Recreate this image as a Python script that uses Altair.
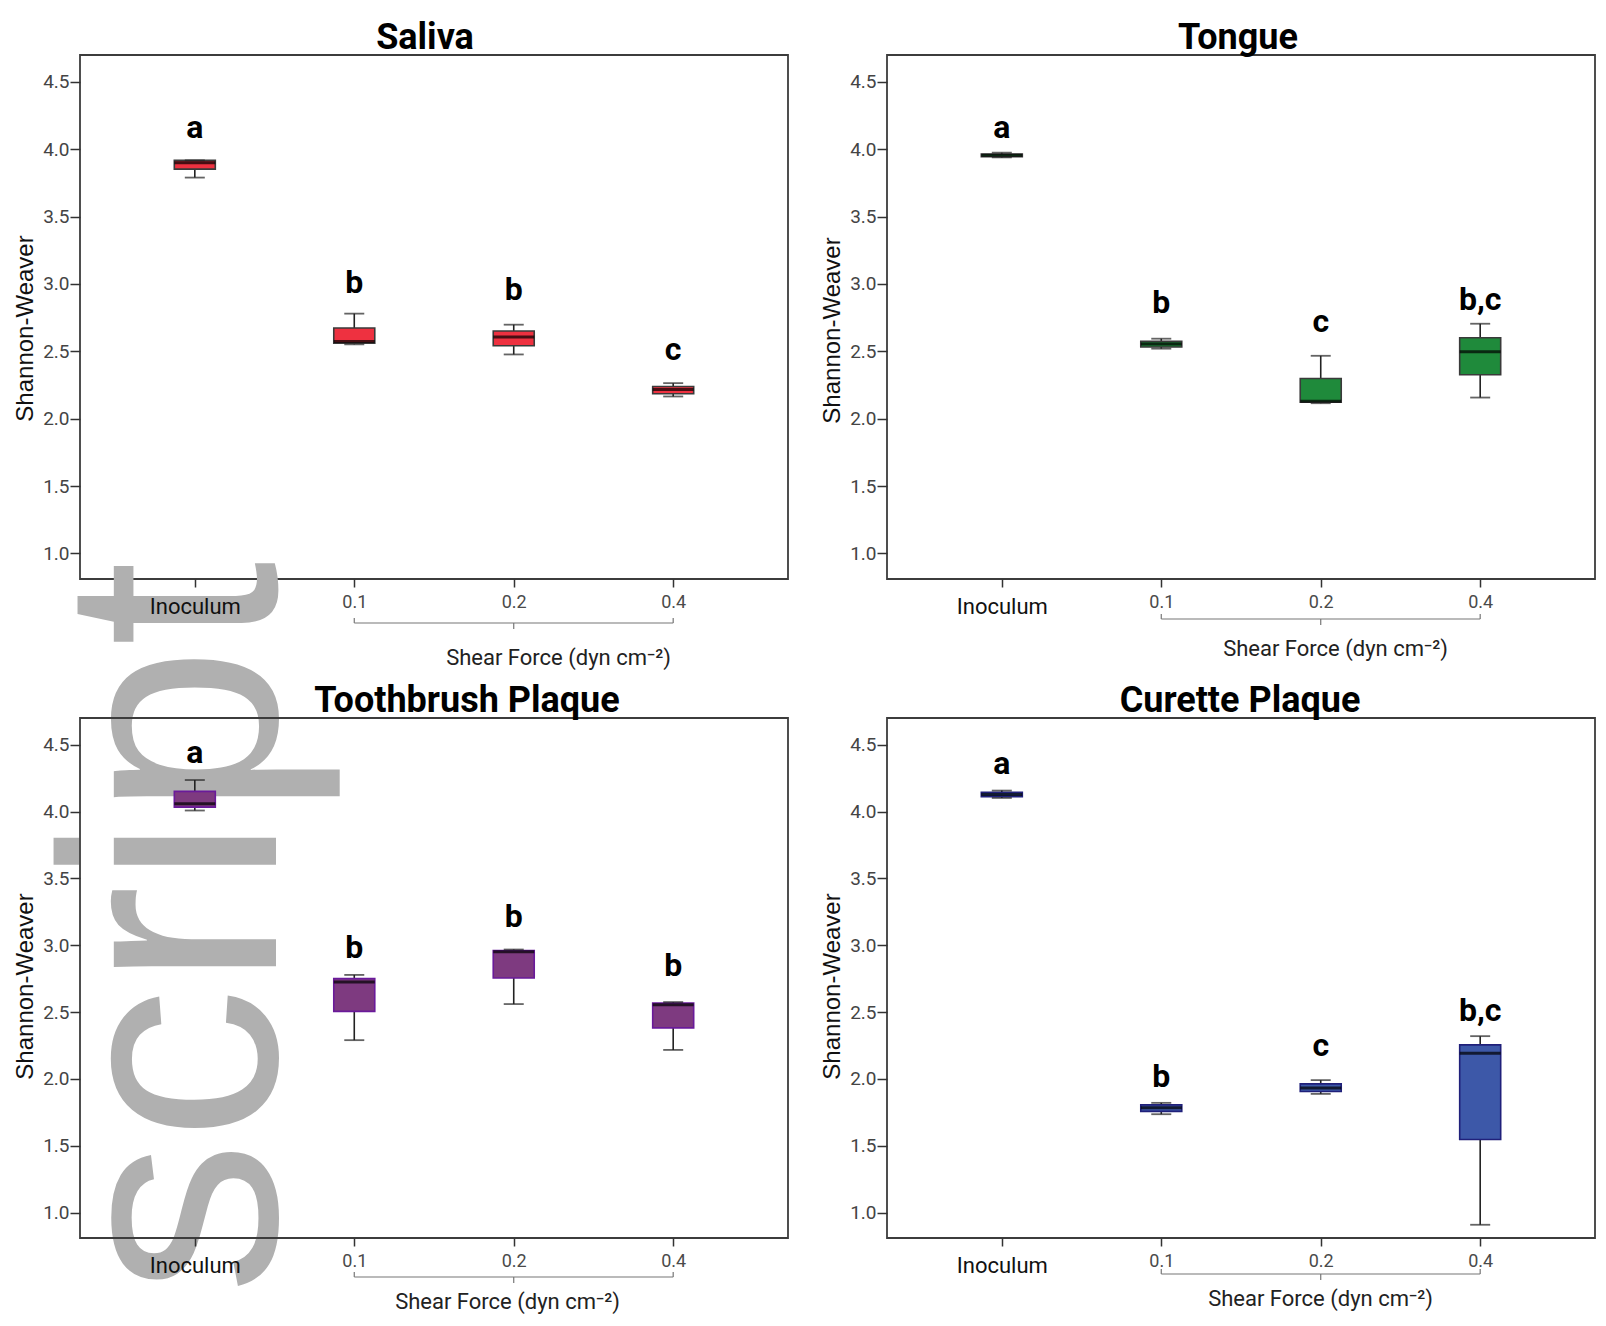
import altair as alt
import pandas as pd

# ---------------- data ----------------
categories = ["Inoculum", "0.1", "0.2", "0.4"]
y_ticks = [1.0, 1.5, 2.0, 2.5, 3.0, 3.5, 4.0, 4.5]

saliva_min = [3.790, 2.552, 2.477, 2.165]
saliva_q1 = [3.853, 2.561, 2.542, 2.185]
saliva_median = [3.900, 2.574, 2.606, 2.217]
saliva_q3 = [3.918, 2.673, 2.651, 2.239]
saliva_max = [3.918, 2.780, 2.698, 2.264]
saliva_letters = ["a", "b", "b", "c"]
saliva_letter_y = [4.087, 2.933, 2.879, 2.438]

tongue_min = [3.940, 2.520, 2.115, 2.157]
tongue_q1 = [3.945, 2.532, 2.122, 2.326]
tongue_median = [3.955, 2.554, 2.130, 2.497]
tongue_q3 = [3.965, 2.574, 2.299, 2.601]
tongue_max = [3.975, 2.594, 2.467, 2.705]
tongue_letters = ["a", "b", "c", "b,c"]
tongue_letter_y = [4.087, 2.785, 2.641, 2.805]

tooth_min = [4.008, 2.290, 2.560, 2.217]
tooth_q1 = [4.033, 2.505, 2.755, 2.382]
tooth_median = [4.058, 2.725, 2.951, 2.555]
tooth_q3 = [4.151, 2.750, 2.961, 2.568]
tooth_max = [4.236, 2.778, 2.968, 2.575]
tooth_letters = ["a", "b", "b", "b"]
tooth_letter_y = [4.360, 2.906, 3.139, 2.768]

curette_min = [4.102, 1.736, 1.888, 0.909]
curette_q1 = [4.112, 1.757, 1.906, 1.547]
curette_median = [4.127, 1.784, 1.933, 2.193]
curette_q3 = [4.144, 1.806, 1.963, 2.255]
curette_max = [4.157, 1.821, 1.991, 2.320]
curette_letters = ["a", "b", "c", "b,c"]
curette_letter_y = [4.281, 1.938, 2.168, 2.430]

bracket_start = ["0.1"]
bracket_end = ["0.4"]
bracket_mid = ["0.2"]
watermark_text = ["script"]

NARROW = "Roboto, Liberation Sans, sans-serif"
REG = "Liberation Sans, Arial, sans-serif"


def make_panel(title, mins, q1s, meds, q3s, maxs, letters, letter_y, fill, stroke,
               width, height, title_dx, y_title_y, x_title_x, x_title_y, bracket_off,
               watermark=False):
    df = pd.DataFrame({"cat": categories, "lo": mins, "q1": q1s, "med": meds,
                       "q3": q3s, "hi": maxs, "letter": letters, "ly": letter_y})
    xscale = alt.Scale(type="point", domain=categories, padding=0.72)
    is_inoc = "datum.value === 'Inoculum'"
    xaxis = alt.Axis(
        title="Shear Force (dyn cm⁻²)", titleX=x_title_x, titleY=x_title_y,
        titleFont=NARROW, titleFontSize=22, titleFontWeight="normal", titleColor="#222",
        titleBaseline="middle", titleAlign="center",
        labelAngle=0, labelFont=NARROW,
        labelFontSize={"condition": {"test": is_inoc, "value": 22}, "value": 18},
        labelColor={"condition": {"test": is_inoc, "value": "#111"}, "value": "#4a4a4a"},
        labelPadding={"condition": {"test": is_inoc, "value": 9}, "value": 6},
        tickSize=8, tickColor="#333", tickWidth=1.5, domain=False, grid=False,
        zindex=1,
    )
    yscale = alt.Scale(domain=[0.81, 4.7], nice=False, zero=False)
    yaxis = alt.Axis(
        title="Shannon-Weaver", values=y_ticks, format=".1f",
        titleFont=REG, titleFontSize=24, titleFontWeight="normal", titleColor="#111",
        titlePadding=5, titleY=y_title_y,
        labelFont=NARROW, labelFontSize=19, labelColor="#444", labelPadding=1,
        tickSize=10, tickColor="#333", tickWidth=1.5, domain=False, grid=False,
        zindex=1,
    )

    def X(f):
        return alt.X(f"{f}:N", scale=xscale, axis=xaxis)

    def Y(f):
        return alt.Y(f"{f}:Q", scale=yscale, axis=yaxis)

    base = alt.Chart(df)
    layers = []
    if watermark:
        wm = pd.DataFrame({"wm": watermark_text})
        layers.append(
            alt.Chart(wm).mark_text(angle=270, align="right", baseline="alphabetic",
                                    font=REG, fontSize=307, color="#b0b0b0")
            .encode(text="wm:N", x=alt.value(196), y=alt.value(506))
        )
    whisker = base.mark_rule(color="#222", strokeWidth=1.6).encode(
        x=X("cat"), y=Y("lo"), y2=alt.Y2("hi:Q"))
    box = base.mark_bar(size=41, fill=fill, stroke=stroke, strokeWidth=1.6).encode(
        x=X("cat"), y=Y("q1"), y2=alt.Y2("q3:Q"))
    median = base.mark_tick(size=41, thickness=3, color="#000").encode(
        x=X("cat"), y=Y("med"))
    cap_lo = base.mark_tick(size=20, thickness=1.8, color="#222").encode(
        x=X("cat"), y=Y("lo"))
    cap_hi = base.mark_tick(size=20, thickness=1.8, color="#222").encode(
        x=X("cat"), y=Y("hi"))
    text = base.mark_text(font=NARROW, fontSize=32, fontWeight="bold", color="#000",
                          baseline="alphabetic", align="center").encode(
        x=X("cat"), y=Y("ly"), text="letter:N")

    bdf = pd.DataFrame({"start": bracket_start, "end": bracket_end, "mid": bracket_mid})
    by = height + bracket_off
    bline = alt.Chart(bdf).mark_rule(color="#777", strokeWidth=1.2).encode(
        x=X("start"), x2=alt.X2("end:N"), y=alt.value(by))
    bend1 = alt.Chart(bdf).mark_rule(color="#777", strokeWidth=1.2).encode(
        x=X("start"), y=alt.value(by - 5), y2=alt.value(by))
    bend2 = alt.Chart(bdf).mark_rule(color="#777", strokeWidth=1.2).encode(
        x=X("end"), y=alt.value(by - 5), y2=alt.value(by))
    bmid = alt.Chart(bdf).mark_rule(color="#777", strokeWidth=1.2).encode(
        x=X("mid"), y=alt.value(by), y2=alt.value(by + 6))

    layers += [whisker, box, median, cap_lo, cap_hi, text, bline, bend1, bend2, bmid]
    return alt.layer(*layers).properties(
        width=width, height=height,
        title=alt.TitleParams(text=title, font=NARROW, fontSize=36, fontWeight="bold",
                              color="#000", offset=-2, dx=title_dx, anchor="middle"),
    )


saliva = make_panel("Saliva", saliva_min, saliva_q1, saliva_median, saliva_q3, saliva_max,
                    saliva_letters, saliva_letter_y, "#ee3140", "#3a3a3a",
                    708, 524, -9, 273, 478, 78, 44, watermark=True)
tongue = make_panel("Tongue", tongue_min, tongue_q1, tongue_median, tongue_q3, tongue_max,
                    tongue_letters, tongue_letter_y, "#1f8a3b", "#3a3a3a",
                    708, 524, -3, 275, 448, 69, 40)
tooth = make_panel("Toothbrush Plaque", tooth_min, tooth_q1, tooth_median, tooth_q3, tooth_max,
                   tooth_letters, tooth_letter_y, "#7e3a80", "#6a1a9a",
                   708, 520, 33, 268, 427, 63, 39)
curette = make_panel("Curette Plaque", curette_min, curette_q1, curette_median, curette_q3,
                     curette_max, curette_letters, curette_letter_y, "#3d58a8", "#20207a",
                     708, 520, -1, 268, 433, 60, 36)

chart = alt.concat(
    saliva, tongue, tooth, curette, columns=2,
    spacing={"row": 139, "column": 99}, bounds="flush",
).configure_view(
    stroke="#3c3c3c", strokeWidth=1.8
).properties(
    padding={"left": 4, "top": 11, "right": 2, "bottom": 2},
    background="white",
)

chart.save("out.html", embed_options={"renderer": "svg", "actions": False})
